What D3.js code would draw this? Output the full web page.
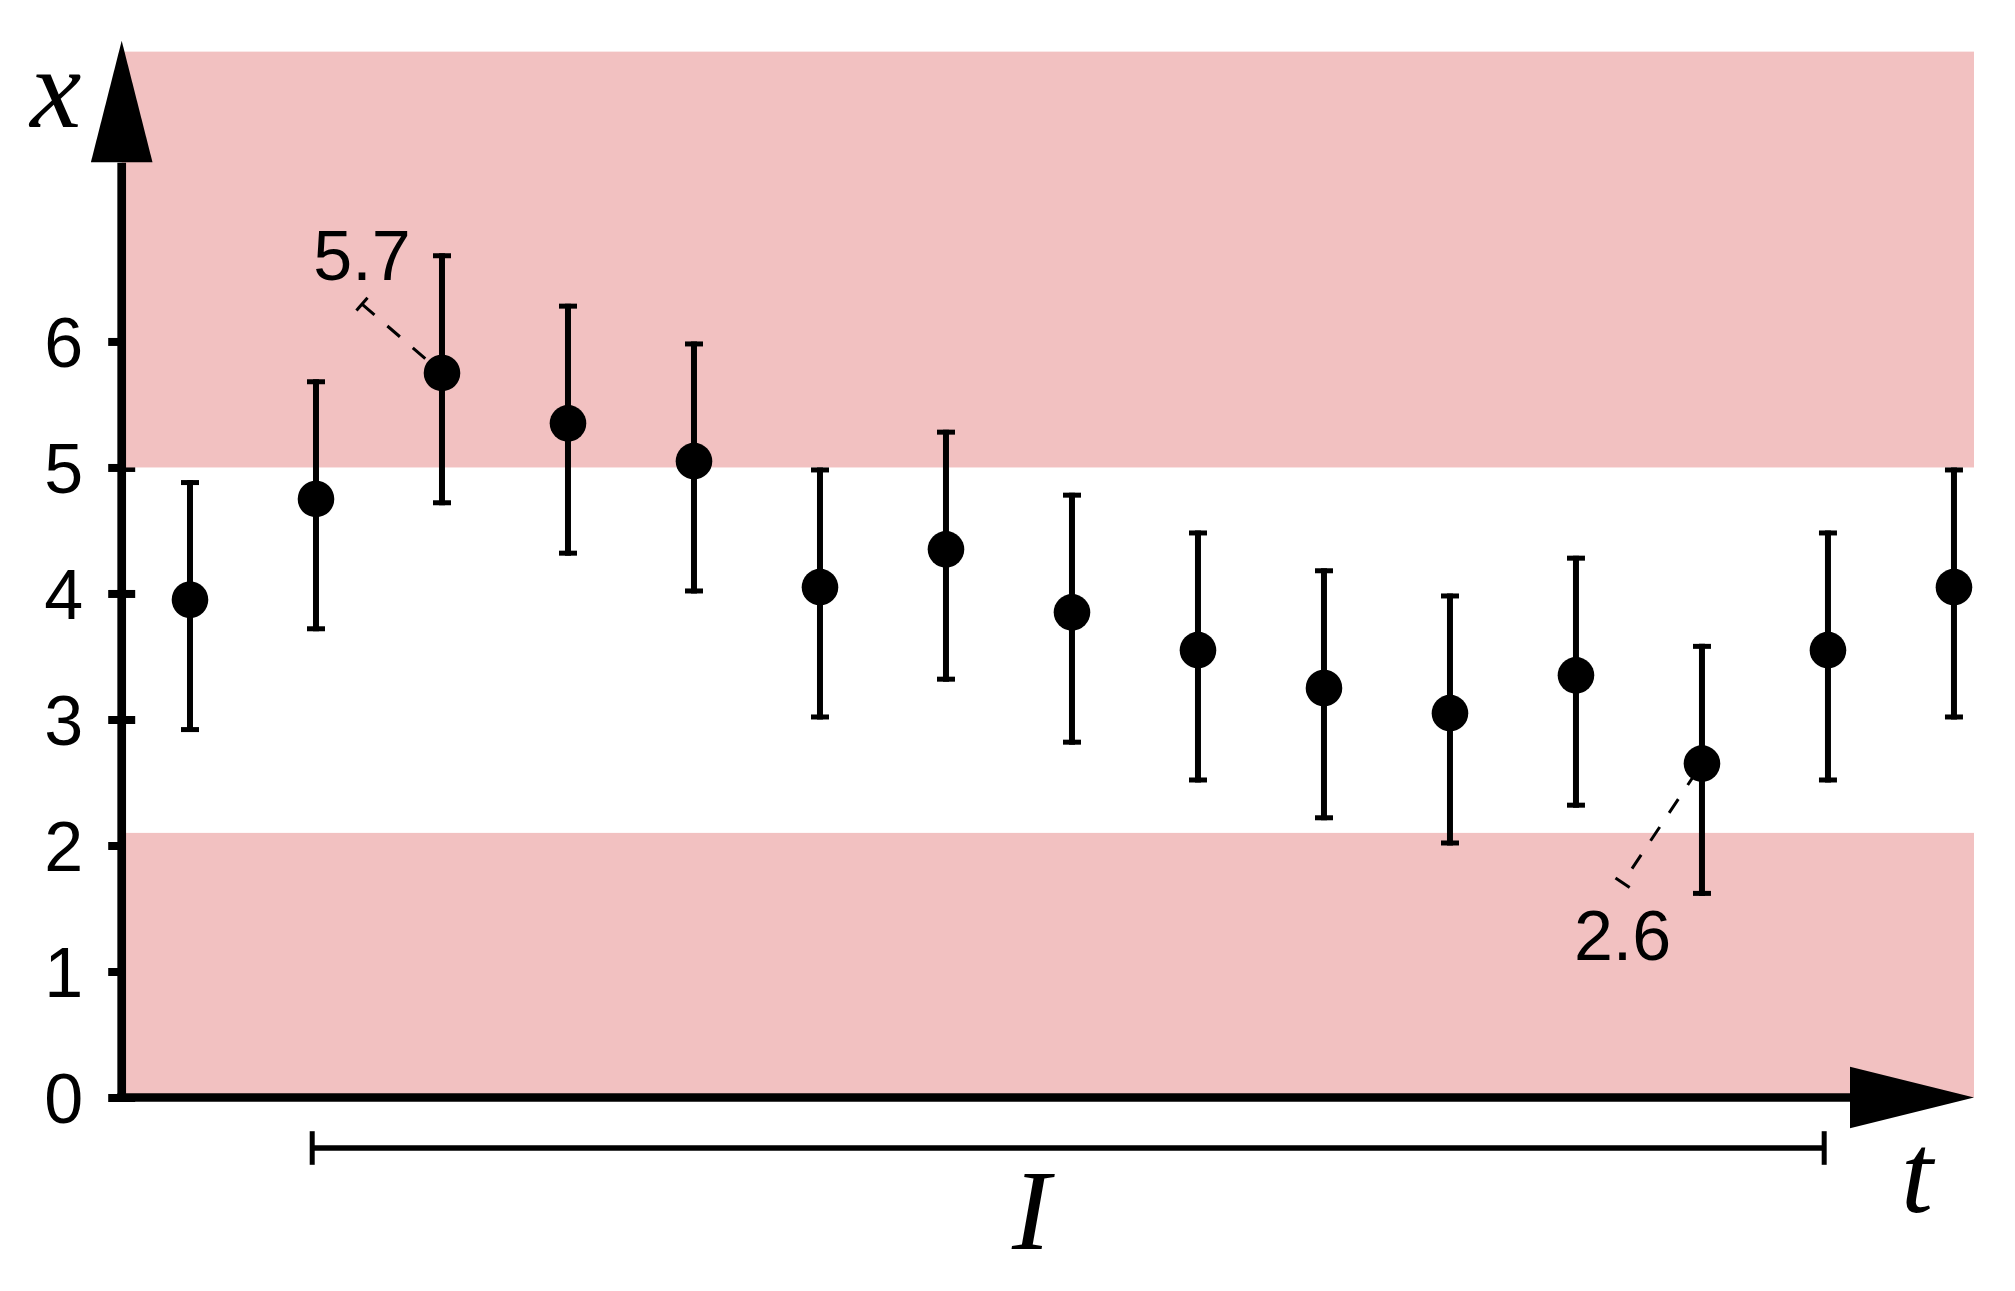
<!DOCTYPE html>
<html>
<head>
<meta charset="utf-8">
<script src="https://cdn.jsdelivr.net/npm/d3@7"></script>
<style>
  html, body { margin: 0; padding: 0; background: #fff; }
  svg { display: block; }
</style>
</head>
<body>
<div id="container"></div>
<script>
// data
const times = [1, 2, 3, 4, 5, 6, 7, 8, 9, 10, 11, 12, 13, 14, 15];
const means = [3.9, 4.7, 5.7, 5.3, 5.0, 4.0, 4.3, 3.8, 3.5, 3.2, 3.0, 3.3, 2.6, 3.5, 4.0];
const dotValues = [3.95, 4.75, 5.75, 5.35, 5.05, 4.05, 4.35, 3.85, 3.55, 3.25, 3.05, 3.35, 2.65, 3.55, 4.05];
const errors = [1, 1, 1, 1, 1, 1, 1, 1, 1, 1, 1, 1, 1, 1, 1];
const yTicks = [0, 1, 2, 3, 4, 5, 6];
const bandLows = [0, 5];
const bandHighs = [2.1, 8.3];
const intervalRange = [1.97, 13.97];
const labelledPoints = [2, 12];   // indices of the annotated points

const width = 2015;
const height = 1291;

// one unit on either axis is 126px
const x = d3.scaleLinear().domain([0.458, 15.159]).range([121.7, 1974]);
const y = d3.scaleLinear().domain([0, 8.305]).range([1097.5, 51]);

const x0 = x(0.458);
const y0 = y(0);
const xEnd = x(15.159);
const serif = "'Liberation Serif', 'Times New Roman', serif";
const sans = "'Liberation Sans', Arial, Helvetica, sans-serif";

const svg = d3.select("#container").append("svg")
  .attr("width", width).attr("height", height);

svg.append("rect").attr("width", width).attr("height", height).attr("fill", "#fff");

// ticks sit under the pink bands
const yAxis = d3.axisLeft(y)
  .tickValues(yTicks)
  .tickSize(13.5)
  .tickPadding(25)
  .tickFormat(d3.format("d"));

const gy = svg.append("g")
  .attr("transform", "translate(" + x0 + ",0)")
  .call(yAxis);
gy.select(".domain").remove();
gy.selectAll(".tick line")
  .attr("x1", 13.5)
  .attr("stroke", "#000")
  .attr("stroke-width", 8);
gy.selectAll(".tick text")
  .attr("fill", "#000")
  .attr("font-family", sans)
  .attr("font-size", 70)
  .attr("dy", "0.36em");

// pink bands
svg.selectAll("rect.band")
  .data(bandLows.map((d, i) => [d, bandHighs[i]]))
  .enter()
  .append("rect")
  .attr("class", "band")
  .attr("x", x0)
  .attr("width", xEnd - x0)
  .attr("y", d => y(d[1]))
  .attr("height", d => y(d[0]) - y(d[1]))
  .attr("fill", "#f2c1c1");

// axes with arrow heads
const axisW = 8.7;
const arrowLen = 124;
const arrowHalf = 30.8;
const yTop = y(8.305) - 10.3;

svg.append("line")
  .attr("x1", x0).attr("x2", x0)
  .attr("y1", y0 + axisW / 2).attr("y2", yTop + arrowLen - 2)
  .attr("stroke", "#000").attr("stroke-width", axisW);
svg.append("line")
  .attr("x1", x0 - axisW / 2).attr("x2", xEnd - arrowLen + 2)
  .attr("y1", y0).attr("y2", y0)
  .attr("stroke", "#000").attr("stroke-width", axisW);

svg.append("path")
  .attr("d", "M" + x0 + "," + yTop +
    "L" + (x0 + arrowHalf) + "," + (yTop + arrowLen - 2.4) +
    "L" + (x0 - arrowHalf) + "," + (yTop + arrowLen - 2.4) + "Z")
  .attr("fill", "#000");
svg.append("path")
  .attr("d", "M" + xEnd + "," + y0 +
    "L" + (xEnd - arrowLen) + "," + (y0 - arrowHalf) +
    "L" + (xEnd - arrowLen) + "," + (y0 + arrowHalf) + "Z")
  .attr("fill", "#000");

// error bars
const bars = svg.append("g").attr("stroke", "#000");
const points = times.map((t, i) => ({ t: t, m: means[i], e: errors[i], v: dotValues[i] }));

bars.selectAll("line.err")
  .data(points)
  .enter()
  .append("line")
  .attr("class", "err")
  .attr("x1", d => x(d.t)).attr("x2", d => x(d.t))
  .attr("y1", d => y(d.m + d.e)).attr("y2", d => y(d.m - d.e))
  .attr("stroke-width", 6);

bars.selectAll("line.capTop")
  .data(points)
  .enter()
  .append("line")
  .attr("class", "capTop")
  .attr("x1", d => x(d.t) - 9).attr("x2", d => x(d.t) + 9)
  .attr("y1", d => y(d.m + d.e) + 2.5).attr("y2", d => y(d.m + d.e) + 2.5)
  .attr("stroke-width", 5);

bars.selectAll("line.capBottom")
  .data(points)
  .enter()
  .append("line")
  .attr("class", "capBottom")
  .attr("x1", d => x(d.t) - 9).attr("x2", d => x(d.t) + 9)
  .attr("y1", d => y(d.m - d.e) - 2.5).attr("y2", d => y(d.m - d.e) - 2.5)
  .attr("stroke-width", 5);

// annotation leaders (drawn before the dots so the dots cover their ends)
const annoLayout = [
  { dt: -0.635, dv: 0.546, above: true, offset: 0 },
  { dt: -0.63, dv: -0.946, above: false, offset: 16.5 }
];

labelledPoints.forEach((idx, k) => {
  const p = points[idx];
  const lay = annoLayout[k];
  const cx = x(p.t), cy = y(p.v);
  const ax = x(p.t + lay.dt), ay = y(p.v + lay.dv);

  svg.append("line")
    .attr("x1", ax).attr("y1", ay).attr("x2", cx).attr("y2", cy)
    .attr("stroke", "#000").attr("stroke-width", 3)
    .attr("stroke-dasharray", "16.5,17")
    .attr("stroke-dashoffset", lay.offset);

  // little tee at the label end
  const len = Math.hypot(cx - ax, cy - ay);
  const px = -(cy - ay) / len * 8.5, py = (cx - ax) / len * 8.5;
  svg.append("line")
    .attr("x1", ax - px).attr("y1", ay - py).attr("x2", ax + px).attr("y2", ay + py)
    .attr("stroke", "#000").attr("stroke-width", 3);

  svg.append("text")
    .attr("x", ax)
    .attr("y", lay.above ? ay - 24.5 : ay + 77.5)
    .attr("text-anchor", "middle")
    .attr("font-family", sans)
    .attr("font-size", 70)
    .attr("fill", "#000")
    .text(d3.format(".1f")(p.m));
});

// dots
svg.selectAll("circle.dot")
  .data(points)
  .enter()
  .append("circle")
  .attr("class", "dot")
  .attr("cx", d => x(d.t))
  .attr("cy", d => y(d.v))
  .attr("r", 18.3)
  .attr("fill", "#000");

// interval I under the time axis
const iy = y0 + 50.5;
svg.append("line")
  .attr("x1", x(intervalRange[0])).attr("x2", x(intervalRange[1]))
  .attr("y1", iy).attr("y2", iy)
  .attr("stroke", "#000").attr("stroke-width", 5.7);
svg.selectAll("line.iend")
  .data(intervalRange)
  .enter()
  .append("line")
  .attr("class", "iend")
  .attr("x1", d => x(d)).attr("x2", d => x(d))
  .attr("y1", iy - 16.8).attr("y2", iy + 16.8)
  .attr("stroke", "#000").attr("stroke-width", 5);

// axis names
const italic = (tx, ty, s) => svg.append("text")
  .attr("x", tx).attr("y", ty)
  .attr("text-anchor", "middle")
  .attr("font-family", serif)
  .attr("font-style", "italic")
  .attr("font-size", 115)
  .attr("fill", "#000")
  .text(s);

italic(x0 - 66, 127, "x");
italic(xEnd - 57, y0 + 114.5, "t");
italic(x(7.675), y0 + 151.5, "I");
</script>
</body>
</html>
